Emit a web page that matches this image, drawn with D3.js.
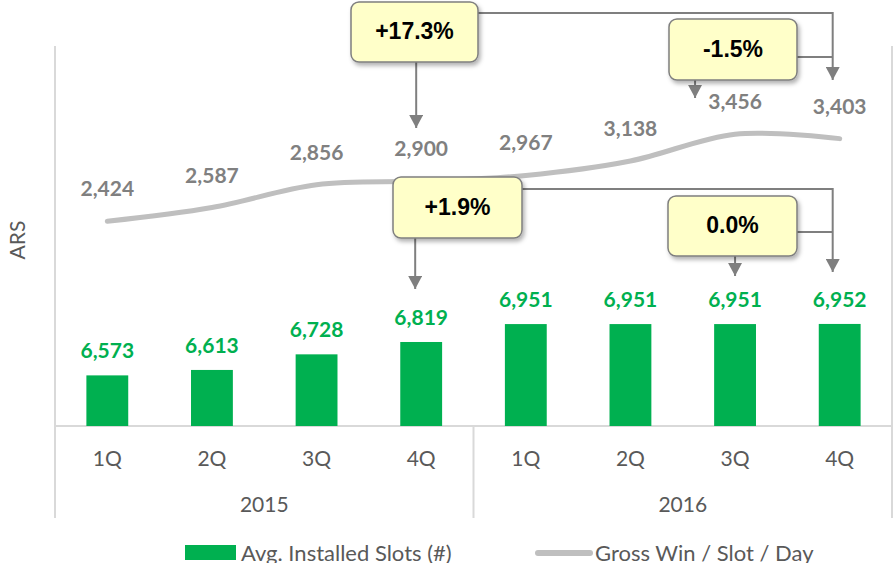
<!DOCTYPE html>
<html>
<head>
<meta charset="utf-8">
<script src="https://cdn.jsdelivr.net/npm/d3@7"></script>
<style>
	body { margin: 0; background: #fff; }
	svg { display: block; }
</style>
</head>
<body>
<svg id="chart" width="894" height="563"></svg>
<script>
// data
var quarters = ["1Q", "2Q", "3Q", "4Q", "1Q", "2Q", "3Q", "4Q"]
var years = ["2015", "2016"]
var slots = [6573, 6613, 6728, 6819, 6951, 6951, 6951, 6952]
var grossWin = [2424, 2587, 2856, 2900, 2967, 3138, 3456, 3403]
var changes = ["+17.3%", "-1.5%", "+1.9%", "0.0%"]

var plotL = 55, plotR = 892, plotT = 46, plotBase = 426, plotB = 518

var svg = d3.select("#chart")
var keys = quarters.map((q, i) => i)

var x = d3.scaleBand()
	.domain(keys)
	.range([plotL, plotR])
	.paddingInner(0.6)
	.paddingOuter(0.3)

var xc = i => x(i) + x.bandwidth() / 2

var yBar = d3.scaleLinear().domain([6200, 9000]).range([plotBase, plotT])
var yLine = d3.scaleLinear().domain([0, 4500]).range([plotBase, plotT])

var xYear = d3.scaleBand().domain(years).range([plotL, plotR])

// frame lines
var grid = svg.append("g").attr("stroke", "#d9d9d9").attr("stroke-width", 2)
grid.append("line").attr("x1", plotL).attr("x2", plotL).attr("y1", plotT).attr("y2", plotB)
grid.append("line").attr("x1", plotR).attr("x2", plotR).attr("y1", plotT).attr("y2", plotB)
grid.append("line").attr("x1", xYear("2016")).attr("x2", xYear("2016")).attr("y1", plotBase).attr("y2", plotB)
grid.append("line").attr("x1", plotL).attr("x2", plotR).attr("y1", plotBase).attr("y2", plotBase)

// bars
svg.append("g")
	.selectAll("rect")
	.data(slots)
	.join("rect")
	.attr("x", (d, i) => x(i))
	.attr("width", x.bandwidth())
	.attr("y", d => yBar(d))
	.attr("height", d => plotBase - yBar(d))
	.attr("fill", "#00b050")

svg.append("g")
	.selectAll("text")
	.data(slots)
	.join("text")
	.attr("x", (d, i) => xc(i))
	.attr("y", d => yBar(d) - 17)
	.attr("text-anchor", "middle")
	.attr("font-family", "Lato, sans-serif")
	.attr("font-weight", "bold")
	.attr("font-size", 21)
	.attr("fill", "#00b050")
	.text(d => d3.format(",")(d))

// line
var line = d3.line()
	.x((d, i) => xc(i))
	.y(d => yLine(d))
	.curve(d3.curveCatmullRom.alpha(0))

svg.append("path")
	.datum(grossWin)
	.attr("d", line)
	.attr("fill", "none")
	.attr("stroke", "#bfbfbf")
	.attr("stroke-width", 5)
	.attr("stroke-linecap", "round")

svg.append("g")
	.selectAll("text")
	.data(grossWin)
	.join("text")
	.attr("x", (d, i) => xc(i))
	.attr("y", d => yLine(d) - 25)
	.attr("text-anchor", "middle")
	.attr("font-family", "Lato, sans-serif")
	.attr("font-weight", "bold")
	.attr("font-size", 21)
	.attr("fill", "#808080")
	.text(d => d3.format(",")(d))

// category axis
var ax = svg.append("g")
	.attr("transform", "translate(0," + plotBase + ")")
	.call(d3.axisBottom(x).tickSize(0).tickFormat(i => quarters[i]))
ax.select(".domain").remove()
ax.selectAll("text")
	.attr("y", 33)
	.attr("dy", "0.35em")
	.attr("font-family", "Lato, sans-serif")
	.attr("font-size", 21)
	.attr("fill", "#595959")

var ay = svg.append("g")
	.attr("transform", "translate(0," + plotBase + ")")
	.call(d3.axisBottom(xYear).tickSize(0))
ay.select(".domain").remove()
ay.selectAll("text")
	.attr("y", 79)
	.attr("dy", "0.35em")
	.attr("font-family", "Lato, sans-serif")
	.attr("font-size", 21)
	.attr("fill", "#595959")

svg.append("text")
	.attr("transform", "translate(25,240) rotate(-90)")
	.attr("text-anchor", "middle")
	.attr("font-family", "Lato, sans-serif")
	.attr("font-size", 21)
	.attr("fill", "#595959")
	.text("ARS")

// legend
var lg = svg.append("g").attr("font-family", "Lato, sans-serif").attr("font-size", 22).attr("fill", "#595959")
lg.append("rect").attr("x", 185).attr("y", 545).attr("width", 51).attr("height", 15).attr("fill", "#00b050")
lg.append("text").attr("x", 241).attr("y", 553).attr("dy", "0.35em").text("Avg. Installed Slots (#)")
lg.append("line").attr("x1", 538).attr("x2", 590).attr("y1", 553).attr("y2", 553)
	.attr("stroke", "#bfbfbf").attr("stroke-width", 6).attr("stroke-linecap", "round")
lg.append("text").attr("x", 595).attr("y", 553).attr("dy", "0.35em").text("Gross Win / Slot / Day")

// callouts
var defs = svg.append("defs")
defs.append("marker")
	.attr("id", "arrow")
	.attr("markerUnits", "userSpaceOnUse")
	.attr("viewBox", "0 0 14 13")
	.attr("refX", 7).attr("refY", 13)
	.attr("markerWidth", 14).attr("markerHeight", 13)
	.attr("orient", "0")
	.append("path")
	.attr("d", "M0,0 L14,0 L7,13 Z")
	.attr("fill", "#7f7f7f")

var sh = defs.append("filter").attr("id", "shadow").attr("x", "-20%").attr("y", "-20%").attr("width", "140%").attr("height", "150%")
sh.append("feDropShadow").attr("dx", 2).attr("dy", 3).attr("stdDeviation", 2).attr("flood-color", "#000").attr("flood-opacity", 0.3)

// box layout: [x, y, w, h], arrow target index + offset, tip y
var boxes = [
	{ text: changes[0], box: [351, 2, 127, 60], to: 3, dx: -5, tip: 128, bracket: { y: 13, to: 7, dx: -7, tip: 80 } },
	{ text: changes[1], box: [669, 19, 128, 61], to: 6, dx: -40, tip: 98, join: 57 },
	{ text: changes[2], box: [393, 177, 129, 61], to: 3, dx: -6, tip: 289, bracket: { y: 189, to: 7, dx: -7, tip: 272 } },
	{ text: changes[3], box: [668, 196, 129, 60], to: 6, dx: 0, tip: 276, join: 232 }
]

var ann = svg.append("g").attr("stroke", "#7f7f7f").attr("stroke-width", 2).attr("fill", "none")

boxes.forEach(b => {
	var bx = b.box
	if (b.bracket) {
		var bxx = xc(b.bracket.to) + b.bracket.dx
		ann.append("path")
			.attr("d", "M" + (bx[0] + bx[2]) + "," + b.bracket.y + " H" + bxx + " V" + b.bracket.tip)
			.attr("marker-end", "url(#arrow)")
	}
	if (b.join) {
		ann.append("path").attr("d", "M" + (bx[0] + bx[2]) + "," + b.join + " H" + (xc(7) - 7))
	}
	var ax0 = xc(b.to) + b.dx
	ann.append("path")
		.attr("d", "M" + ax0 + "," + (bx[1] + bx[3]) + " V" + b.tip)
		.attr("marker-end", "url(#arrow)")
})

var bg = svg.append("g")
	.selectAll("g")
	.data(boxes)
	.join("g")

bg.append("rect")
	.attr("x", d => d.box[0])
	.attr("y", d => d.box[1])
	.attr("width", d => d.box[2])
	.attr("height", d => d.box[3])
	.attr("rx", 8)
	.attr("fill", "#ffffc9")
	.attr("stroke", "#7f7f7f")
	.attr("stroke-width", 1.5)
	.attr("filter", "url(#shadow)")

bg.append("text")
	.attr("x", d => d.box[0] + d.box[2] / 2)
	.attr("y", d => d.box[1] + d.box[3] / 2 - 1)
	.attr("dy", "0.35em")
	.attr("text-anchor", "middle")
	.attr("font-family", "'Liberation Sans', Arial, sans-serif")
	.attr("font-weight", "bold")
	.attr("font-size", 23)
	.attr("fill", "#000")
	.text(d => d.text)
</script>
</body>
</html>
